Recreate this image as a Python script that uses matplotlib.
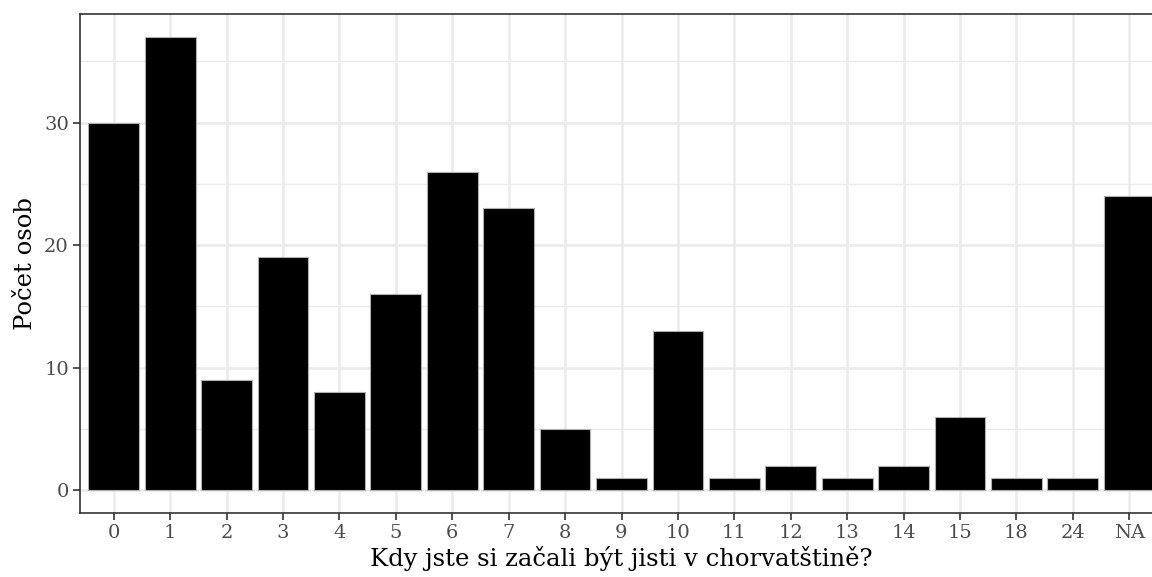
import numpy as np
import matplotlib.pyplot as plt
from matplotlib.ticker import MultipleLocator

categories = ['0', '1', '2', '3', '4', '5', '6', '7', '8', '9', '10', '11',
              '12', '13', '14', '15', '18', '24', 'NA']
counts = [30, 37, 9, 19, 8, 16, 26, 23, 5, 1, 13, 1, 2, 1, 2, 6, 1, 1, 24]

plt.rcParams['font.family'] = ['DejaVu Serif']

fig = plt.figure(figsize=(11.52, 5.77), dpi=100)
# panel runs past the right edge of the picture, like the cropped original
ax = fig.add_axes([80/1152, 1 - 513/577, 1083/1152, 499/577])

x = np.arange(len(categories))
ax.bar(x, counts, width=0.9, color='black', edgecolor='#b0b0b0', linewidth=0.8, zorder=3)

ax.set_xlim(-0.6, len(categories) - 0.4)
ax.set_ylim(-0.05 * max(counts), 1.05 * max(counts))
ax.set_xticks(x)
ax.set_xticklabels(categories)
ax.yaxis.set_major_locator(MultipleLocator(10))
ax.yaxis.set_minor_locator(MultipleLocator(5))

ax.grid(which='major', color='#ebebeb', linewidth=1.8, zorder=0)
ax.grid(which='minor', axis='y', color='#ebebeb', linewidth=1.0, zorder=0)
ax.set_axisbelow(True)

for s in ax.spines.values():
    s.set_color('#333333')
    s.set_linewidth(1.2)

ax.tick_params(which='major', length=5, width=1.2, color='#333333',
               labelsize=14, labelcolor='#4d4d4d', pad=3)
ax.tick_params(which='minor', length=0)

ax.set_xlabel('Kdy jste si začali být jisti v chorvatštině?', fontsize=17.5, labelpad=3)
ax.set_ylabel('Počet osob', fontsize=17.5, labelpad=5)

fig.savefig('out.png', dpi=100)
